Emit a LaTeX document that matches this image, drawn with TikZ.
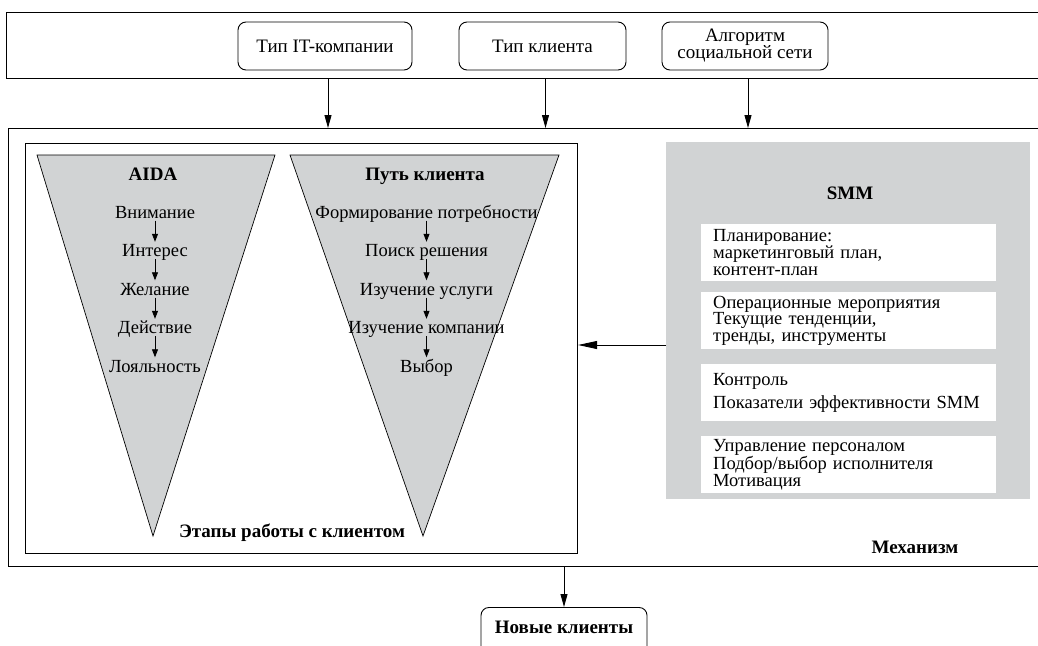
\documentclass[tikz,border=0pt]{standalone}
\usepackage{fontspec}
\setmainfont{Liberation Serif}
\usetikzlibrary{arrows.meta}
\definecolor{fgray}{RGB}{209,211,212}
\tikzset{
  frame/.style={draw, line width=1.1pt, inner sep=0pt, anchor=north west},
  topbox/.style={draw, rounded corners=8pt, line width=0.9pt, minimum height=48pt, align=center, font=\fontsize{19}{18}\selectfont, inner sep=2pt},
  bigarr/.style={line width=0.9pt, -{Triangle[length=13pt,width=7pt]}},
  smallarr/.style={line width=0.8pt, -{Triangle[length=8pt,width=6pt]}},
  funnel/.style={draw, fill=fgray, line width=0.7pt},
  stage/.style={font=\fontsize{18.5}{18}\selectfont, anchor=base, inner sep=2.5pt, text height=12pt, text depth=0pt},
  ttl/.style={font=\bfseries\fontsize{19}{18}\selectfont, anchor=base, inner sep=0pt},
  wbox/.style={fill=white, minimum width=295pt, minimum height=57pt, text width=271pt, align=left, inner xsep=12pt, inner ysep=0pt, anchor=north west, font=\fontsize{18.5}{16.7}\selectfont},
}
\begin{document}
\begin{tikzpicture}[x=1pt,y=-1pt]
\clip (0,0) rectangle (1038,645);
\fill[white] (0,0) rectangle (1038,645);
% top frame
\node[frame, minimum width=1040pt, minimum height=66pt] (top) at (6,12) {};
\node[topbox, minimum width=174pt] (b1) at (325,46) {Тип IT-компании};
\node[topbox, minimum width=167pt] (b2) at (542.5,46) {Тип клиента};
\node[topbox, minimum width=166pt] (b3) at (745,46) {Алгоритм\\[-1pt]социальной сети};
% outer frame
\node[frame, minimum width=1040pt, minimum height=438pt] (outer) at (8,128) {};
\draw[bigarr] ([xshift=3pt]b1 |- top.south) -- ([xshift=3pt]b1 |- outer.north);
\draw[bigarr] ([xshift=3pt]b2 |- top.south) -- ([xshift=3pt]b2 |- outer.north);
\draw[bigarr] ([xshift=3pt]b3 |- top.south) -- ([xshift=3pt]b3 |- outer.north);
% inner frame
\node[frame, minimum width=552pt, minimum height=410pt] (inner) at (25,143) {};
% funnels
\draw[funnel] (37,155) -- (275,155) -- (153,536) -- cycle;
\draw[funnel] (290,155) -- (559,155) -- (423,536) -- cycle;
\node[ttl] (aida) at (153,180) {AIDA};
\node[stage] (a1) at (155,218) {Внимание};
\node[stage] (a2) at (155,256.5) {Интерес};
\node[stage] (a3) at (155,295) {Желание};
\node[stage] (a4) at (155,333.5) {Действие};
\node[stage] (a5) at (155,372) {Лояльность};
\draw[smallarr] (a1) -- (a2);
\draw[smallarr] (a2) -- (a3);
\draw[smallarr] (a3) -- (a4);
\draw[smallarr] (a4) -- (a5);
\node[ttl] (path) at (425,180) {Путь клиента};
\node[stage] (p1) at (426.5,218) {Формирование потребности};
\node[stage] (p2) at (426.5,256.5) {Поиск решения};
\node[stage] (p3) at (426.5,295) {Изучение услуги};
\node[stage] (p4) at (426.5,333.5) {Изучение компании};
\node[stage] (p5) at (426.5,372) {Выбор};
\draw[smallarr] (p1) -- (p2);
\draw[smallarr] (p2) -- (p3);
\draw[smallarr] (p3) -- (p4);
\draw[smallarr] (p4) -- (p5);
\node[ttl] (stages) at (292,537) {Этапы работы с клиентом};
% SMM
\node[fill=fgray, minimum width=364pt, minimum height=357pt, anchor=north west, inner sep=0pt] (smm) at (666,142) {};
\node[ttl] (smmt) at (850,199) {SMM};
\node[wbox] (w1) at (701,224) {Планирование:\\маркетинговый план,\\контент-план};
\node[wbox] (w2) at (701,292) {Операционные мероприятия\\Текущие тенденции,\\тренды, инструменты};
\node[wbox] (w3) at (701,364) {Контроль\\[5pt]Показатели эффективности SMM};
\node[wbox] (w4) at (701,436) {Управление персоналом\\Подбор/выбор исполнителя\\Мотивация};
\coordinate (la) at (666,345);
\draw[line width=0.9pt, -{Triangle[length=19pt,width=8pt]}] (la) -- (la -| inner.east);
\node[ttl] (mech) at (915,553) {Механизм};
% output
\node[draw, rounded corners=8pt, line width=0.9pt, minimum width=166pt, minimum height=70pt, anchor=north, font=\bfseries\fontsize{19}{18}\selectfont, text depth=30pt, inner sep=0pt] (nc) at (564,607) {Новые клиенты};
\draw[bigarr] (nc |- outer.south) -- (nc.north);
\end{tikzpicture}
\end{document}
